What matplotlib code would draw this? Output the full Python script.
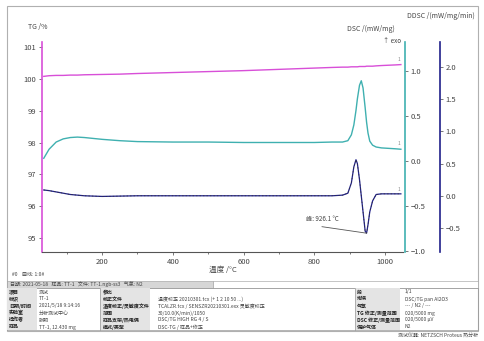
import matplotlib
matplotlib.use('Agg')
import matplotlib.pyplot as plt
from matplotlib.patches import Rectangle

plt.rcParams['font.family'] = ['Noto Sans CJK SC', 'DejaVu Sans']

# data
temp = [35, 50, 70, 90, 110, 130, 150, 200, 250, 300, 400, 500, 600, 700, 800,
        850, 880, 895, 905, 912, 918, 922, 928, 933, 938, 944, 948, 952, 957,
        965, 975, 990, 1010, 1030, 1045]
tg = [100.08, 100.10, 100.11, 100.11, 100.12, 100.12, 100.13, 100.14, 100.15,
      100.17, 100.20, 100.23, 100.26, 100.30, 100.34, 100.36, 100.37, 100.37,
      100.38, 100.38, 100.38, 100.38, 100.39, 100.39, 100.39, 100.39, 100.40,
      100.40, 100.40, 100.40, 100.41, 100.42, 100.43, 100.44, 100.45]
dsc = [0.03, 0.13, 0.21, 0.245, 0.26, 0.265, 0.26, 0.24, 0.225, 0.215, 0.21,
       0.21, 0.205, 0.205, 0.205, 0.21, 0.21, 0.225, 0.29, 0.40, 0.56, 0.69,
       0.84, 0.89, 0.81, 0.59, 0.43, 0.31, 0.22, 0.175, 0.155, 0.145, 0.14,
       0.135, 0.13]
ddsc = [0.09, 0.08, 0.06, 0.04, 0.02, 0.01, 0.0, -0.01, -0.005, 0.0, 0.0, 0.0,
        0.0, 0.0, 0.0, 0.0, 0.01, 0.04, 0.2, 0.45, 0.56, 0.5, 0.25, 0.0, -0.25,
        -0.55, -0.58, -0.45, -0.25, -0.08, 0.02, 0.03, 0.03, 0.03, 0.03]
peak_label = '峰: 926.1 °C'
peak_xy = (947, -0.58)
peak_text_xy = (822, -0.42)

c_tg = '#d84fd8'
c_dsc = '#3fb0b0'
c_ddsc = '#20208a'
c_txt = '#444444'

fig = plt.figure(figsize=(4.85, 3.41), dpi=100)
W, H = 485, 341

# frame + table drawn in pixel coordinates
tab = fig.add_axes([0, 0, 1, 1], zorder=-1)
tab.set_xlim(0, W)
tab.set_ylim(H, 0)
tab.axis('off')
tab.add_patch(Rectangle((7, 6), 471, 325, fill=False, ec='#b0b0b0', lw=0.8))

fs = 3.6
tab.text(12, 275, '#0    曲线: 1:0#', fontsize=fs, color=c_txt, va='center')

# header bar
tab.add_patch(Rectangle((7, 281), 206, 7, fc='#d6d6d6', ec='#999999', lw=0.4))
tab.add_patch(Rectangle((213, 281), 265, 7, fc='white', ec='#999999', lw=0.4))
tab.text(10, 284.5, '日期: 2021-05-18   样品: TT-1   文件: TT-1.ngb-ss3   气氛: N2',
         fontsize=fs, color=c_txt, va='center')

# body
tab.add_patch(Rectangle((7, 288), 471, 42, fill=False, ec='#999999', lw=0.5))
for x0, w in [(7, 30), (100, 50), (355, 45)]:
    tab.add_patch(Rectangle((x0, 288), w, 42, fc='#e4e4e4', ec='none'))
for xv in [100, 355]:
    tab.plot([xv, xv], [288, 330], color='#999999', lw=0.5)

left_lab = ['项目', '标识', '日期/时间', '实验室', '操作者', '样品']
left_val = ['测试', 'TT-1', '2021/5/18 9:14:16', '分析测试中心', '张明',
            'TT-1, 12.430 mg']
mid_lab = ['参比', '校正文件', '温度校正/灵敏度文件', '范围', '样品支架/热电偶',
           '模式/类型']
mid_val = ['', '温度校正 20210301.tcx (+ 1 2 10 50 ...)',
           'TCALZR.tcx / SENSZR20210301.exx 灵敏度校正', '30/10.0(K/min)/1050',
           'DSC/TG HIGH RG 4 / S', 'DSC-TG / 样品+修正']
right_lab = ['段', '坩埚', '气氛', 'TG 修正/测量范围', 'DSC 修正/测量范围',
             '保护气体']
right_val = ['1/1', 'DSC/TG pan Al2O3', '--- / N2 / ---', '020/5000 mg',
             '020/5000 µV', 'N2']
rows_y = [292, 299, 306, 313, 320, 327]
for i, y in enumerate(rows_y):
    tab.text(9, y, left_lab[i], fontsize=fs, color='#222222', va='center',
             weight='bold')
    tab.text(39, y, left_val[i], fontsize=fs, color=c_txt, va='center')
    tab.text(103, y, mid_lab[i], fontsize=fs, color='#222222', va='center',
             weight='bold')
    tab.text(158, y, mid_val[i], fontsize=fs, color=c_txt, va='center')
    tab.text(357, y, right_lab[i], fontsize=fs, color='#222222', va='center',
             weight='bold')
    tab.text(405, y, right_val[i], fontsize=fs, color=c_txt, va='center')
tab.text(478, 335, '测试仪器: NETZSCH Proteus 热分析', fontsize=fs,
         color=c_txt, va='center', ha='right')

# main axes
x0, x1, y0, y1 = 42, 403, 42, 252
ax = fig.add_axes([x0 / W, 1 - y1 / H, (x1 - x0) / W, (y1 - y0) / H])
ax.set_xlim(30, 1051)
ax.set_ylim(94.56, 101.16)
ax.plot(temp, tg, color=c_tg, lw=1.0)
for s in ['top', 'right']:
    ax.spines[s].set_visible(False)
ax.spines['left'].set_color(c_tg)
ax.spines['left'].set_linewidth(1.2)
ax.spines['bottom'].set_color('#555555')
ax.spines['bottom'].set_linewidth(0.8)
ax.set_xticks([200, 400, 600, 800, 1000])
ax.set_xticks(range(100, 1050, 100), minor=True)
ax.set_yticks([95, 96, 97, 98, 99, 100, 101])
ax.tick_params(axis='both', labelsize=5.5, colors=c_txt, length=2, width=0.5,
               pad=2)
ax.tick_params(axis='x', which='minor', length=1.5, width=0.5, colors=c_txt)
ax.set_xlabel('温度 /°C', fontsize=5.5, color=c_txt, labelpad=0)
ax.patch.set_alpha(0)

ax2 = ax.twinx()
ax2.set_ylim(-1.01, 1.32)
ax2.plot(temp, dsc, color=c_dsc, lw=1.0)
for s in ['top', 'left', 'bottom']:
    ax2.spines[s].set_visible(False)
ax2.spines['right'].set_color(c_dsc)
ax2.spines['right'].set_linewidth(1.2)
ax2.spines['right'].set_position(('outward', 1.5))
ax2.set_yticks([-1.0, -0.5, 0.0, 0.5, 1.0])
ax2.tick_params(axis='y', labelsize=5.5, colors=c_txt, length=2, width=0.5, pad=2)

ax3 = ax.twinx()
ax3.set_ylim(-0.873, 2.388)
ax3.plot(temp, ddsc, color=c_ddsc, lw=0.9)
ax3.plot(temp, ddsc, color='#333333', lw=0.5, ls=(0, (2, 3)))
for s in ['top', 'left', 'bottom']:
    ax3.spines[s].set_visible(False)
ax3.spines['right'].set_color(c_ddsc)
ax3.spines['right'].set_linewidth(1.2)
ax3.spines['right'].set_position(('outward', 26.5))
ax3.set_yticks([-0.5, 0.0, 0.5, 1.0, 1.5, 2.0])
ax3.tick_params(axis='y', labelsize=5.5, colors=c_txt, length=2, width=0.5, pad=2)

ax3.text(peak_text_xy[0], peak_text_xy[1], peak_label, fontsize=4.5,
         color=c_txt, ha='center', va='bottom')
ax3.plot([peak_text_xy[0], peak_xy[0]], [peak_text_xy[1] - 0.06, peak_xy[1]],
         color='#555555', lw=0.6)

# curve end tags
ax.text(temp[-1] - 5, tg[-1] + 0.12, '1', fontsize=3.5, color='#888888', ha='center')
ax2.text(temp[-1] - 5, dsc[-1] + 0.05, '1', fontsize=3.5, color='#888888', ha='center')
ax3.text(temp[-1] - 5, ddsc[-1] + 0.05, '1', fontsize=3.5, color='#888888', ha='center')

# axis titles
fig.text(28 / W, 1 - 27 / H, 'TG /%', fontsize=5, color=c_txt, va='center')
fig.text(395 / W, 1 - 29 / H, 'DSC /(mW/mg)', fontsize=5, color=c_txt,
         va='center', ha='right')
fig.text(475 / W, 1 - 16 / H, 'DDSC /(mW/mg/min)', fontsize=5, color=c_txt,
         va='center', ha='right')
fig.text(401 / W, 1 - 41 / H, '↑ exo', fontsize=4.5, color=c_txt,
         va='center', ha='right')

fig.savefig('out.png', dpi=100)
